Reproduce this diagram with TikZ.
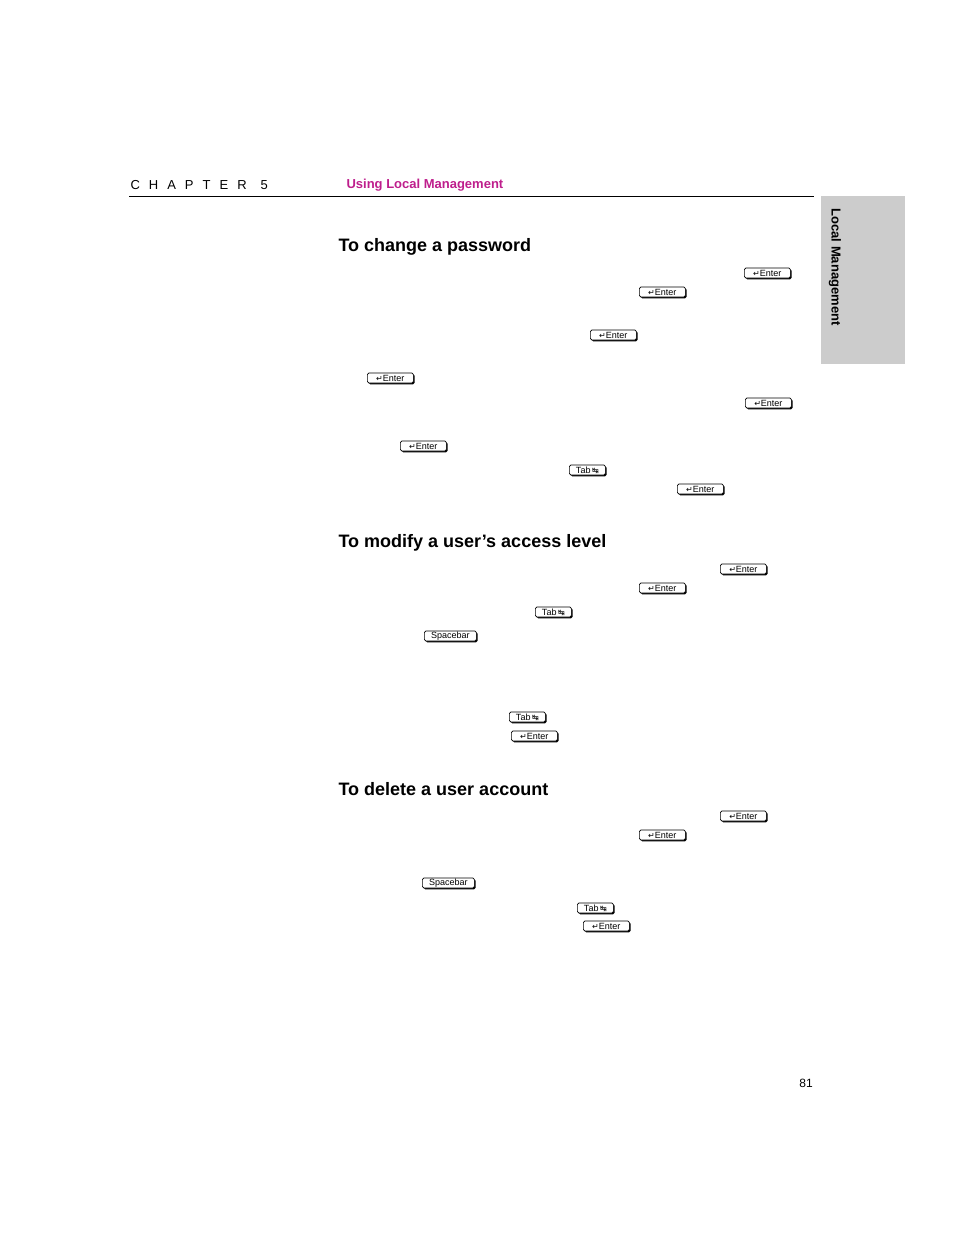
\documentclass[tikz,border=0pt]{standalone}
\usepackage{fontspec}
\setmainfont{Liberation Sans}
\newfontfamily\symfont{DejaVu Sans}
\usetikzlibrary{shadows}
\definecolor{chapmagenta}{RGB}{190,30,140}
\definecolor{tabgray}{RGB}{204,204,204}
\tikzset{
  keycap/.style={draw, rounded corners=1.5pt, fill=white, anchor=west, inner sep=0pt,
    minimum height=10pt, line width=0.7pt, font=\fontsize{9}{9}\selectfont,
    drop shadow={shadow xshift=1.3pt, shadow yshift=-1.3pt, opacity=1, fill=black}},
  head/.style={anchor=west, font=\fontsize{18}{18}\selectfont\bfseries},
}
\newcommand{\entertxt}{{\symfont\fontsize{8}{8}\selectfont ↵}Enter}
\newcommand{\tabtxt}{Tab\,{\symfont\fontsize{8}{8}\selectfont ↹}}
\begin{document}
\begin{tikzpicture}[x=1pt,y=-1pt]
\useasboundingbox (0,0) rectangle (954,1235);
% header
\node[anchor=west, font=\fontsize{13}{13}\selectfont] (chap) at (127,185) {C\hspace{9pt}H\hspace{9pt}A\hspace{9pt}P\hspace{9pt}T\hspace{9pt}E\hspace{9pt}R\hspace{14pt}5};
\node[anchor=west, text=chapmagenta, font=\fontsize{13}{13}\selectfont\bfseries] (title) at (343,185) {Using Local Management};
\draw[line width=0.8pt] (129,196) -- (814,196);
\fill[tabgray] (821,196) rectangle (905,364);
\node[anchor=west, rotate=-90, font=\fontsize{13}{13}\selectfont\bfseries] (side) at (835,205) {Local Management};
% headings
\node[head] (h1) at (335,247) {To change a password};
\node[head] (h2) at (335,543) {To modify a user’s access level};
\node[head] (h3) at (335,789) {To delete a user account};
% keys
\foreach \x/\y [count=\i] in {744/273,639/292,590/335,367/378,745/403,400/446,677/489,
    720/569,639/588,511/736,720/816,639/835,583/926}
  \node[keycap, minimum width=46pt] (enter\i) at (\x,\y) {\entertxt};
\foreach \x/\y [count=\i] in {569/470,535/612,509/717,577/908}
  \node[keycap, minimum width=36pt] (tab\i) at (\x,\y) {\tabtxt};
\foreach \x/\y [count=\i] in {424/636,422/883}
  \node[keycap, minimum width=52pt] (space\i) at (\x,\y) {Spacebar};
\node[font=\fontsize{12}{12}\selectfont] (page) at (806,1083) {81};
\end{tikzpicture}
\end{document}
